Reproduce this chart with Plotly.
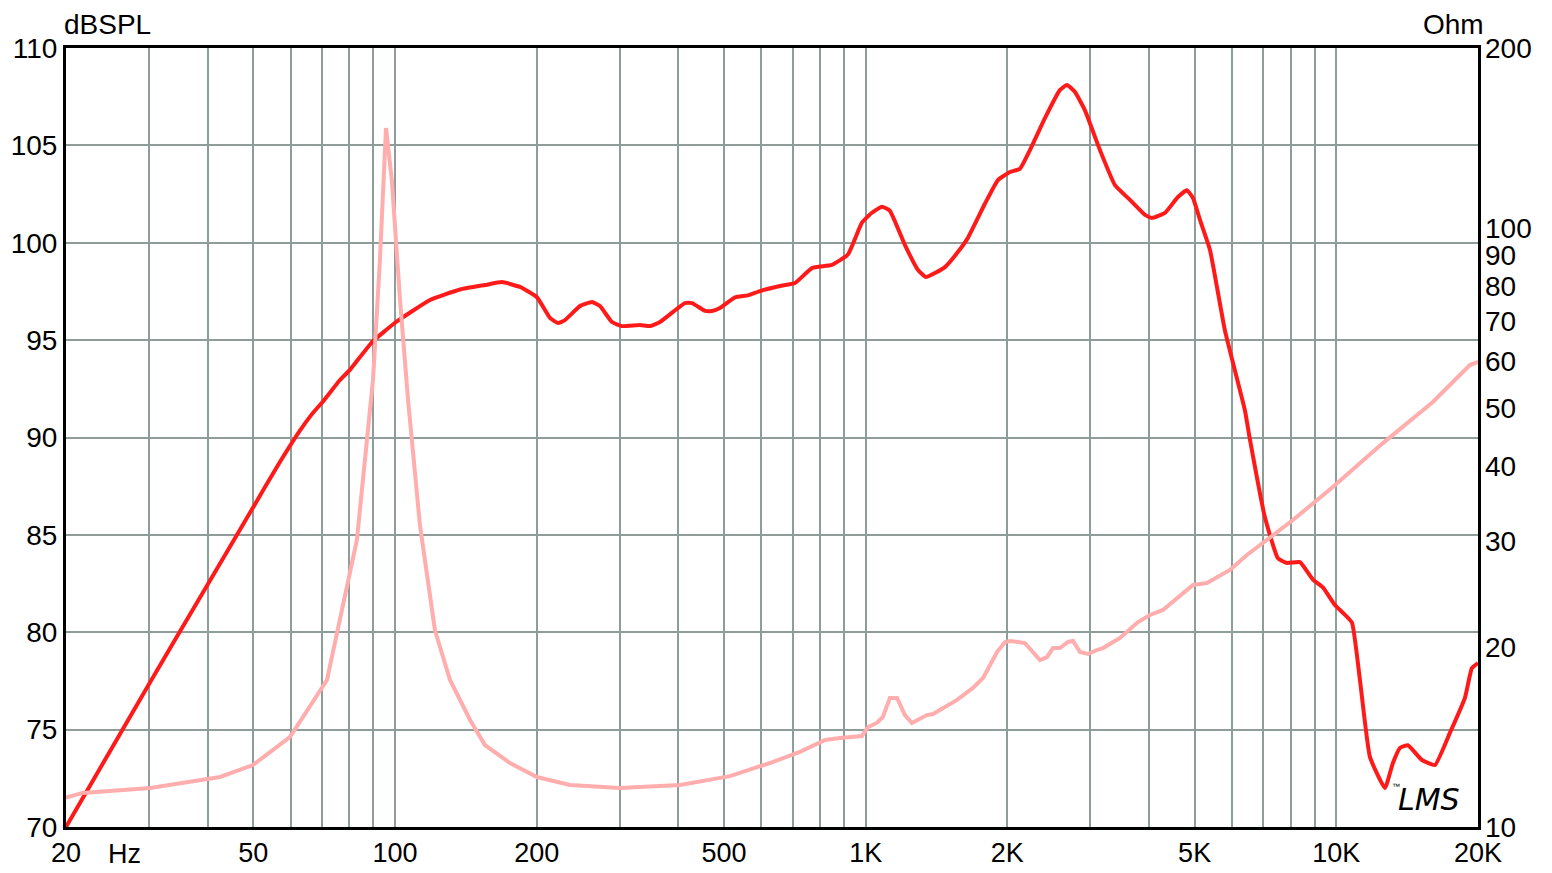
import numpy as np
import plotly.graph_objects as go

# SPL response (red) — frequency in Hz, level in dBSPL
spl_freq = [20, 30.2, 40, 50.2, 56, 62.8, 66.6, 70.3, 76.4, 80.2, 89.4, 100.5, 118.7, 137.5, 155.3, 168.8,
            184.3, 200.3, 213.4, 222, 229.7, 247.2, 262.2, 272.6, 289, 303.5, 331.7, 348.2, 365.6, 413,
            427.6, 455.9, 471.6, 490.4, 527.6, 562.2, 596.4, 657.6, 707.8, 769, 848, 917, 982, 1031, 1083,
            1126, 1212, 1292, 1343, 1404, 1474, 1570, 1649, 1792, 1910, 2026, 2128, 2234, 2404, 2586, 2678,
            2785, 2924, 3146, 3386, 3644, 3922, 4057, 4324, 4608, 4814, 4960, 5133, 5390, 5798, 6394, 6553,
            7052, 7514, 7852, 8370, 8920, 9364, 9932, 10330, 10794, 11226, 11786, 12684, 13190, 13652,
            14196, 15200, 16198, 17430, 18760, 19410, 20000]
spl_db = [70.0, 77.45, 82.45, 86.5, 88.45, 90.35, 91.2, 91.85, 92.95, 93.47, 94.9, 95.93, 97.06, 97.6,
          97.83, 97.98, 97.73, 97.2, 96.14, 95.88, 96.03, 96.75, 96.96, 96.75, 95.93, 95.72, 95.78, 95.72,
          95.93, 96.9, 96.9, 96.5, 96.5, 96.65, 97.2, 97.3, 97.52, 97.78, 97.93, 98.7, 98.86, 99.4,
          101.03, 101.54, 101.85, 101.64, 99.88, 98.6, 98.24, 98.45, 98.75, 99.52, 100.25, 102.0, 103.22,
          103.63, 103.8, 104.76, 106.4, 107.84, 108.1, 107.74, 106.8, 104.76, 102.96, 102.2, 101.43,
          101.27, 101.53, 102.35, 102.7, 102.3, 101.17, 99.63, 95.5, 91.4, 89.9, 85.9, 83.8, 83.56, 83.6,
          82.7, 82.3, 81.4, 81.0, 80.5, 77.55, 73.6, 72.0, 73.29, 74.06, 74.2, 73.44, 73.18, 74.83, 76.63,
          78.16, 78.42]

# Impedance (pink) — frequency in Hz, impedance in Ohm
imp_freq = [20, 21.7, 30.2, 42.5, 49.9, 59.8, 71.7, 75.3, 83, 89.8, 92.9, 95.7, 98.5, 102.5, 106.6, 113,
            121.6, 130.9, 144.4, 155.3, 175.5, 200.3, 235.4, 300.6, 403.2, 515, 626, 725, 820, 882, 982,
            1012, 1056, 1088, 1126, 1166, 1212, 1254, 1350, 1390, 1564, 1690, 1776, 1902, 1978, 2026, 2128,
            2180, 2346, 2428, 2500, 2587, 2690, 2758, 2854, 2968, 3100, 3194, 3470, 3790, 4018, 4282, 4960,
            5310, 5943, 6457, 8087, 9832, 12560, 16040, 19220, 20000]
imp_ohm = [11.2, 11.4, 11.62, 12.12, 12.69, 14.13, 17.6, 21.09, 30.15, 55.8, 88.5, 147.0, 120.0, 75.9,
           51.7, 31.9, 21.3, 17.6, 15.09, 13.7, 12.79, 12.12, 11.75, 11.62, 11.75, 12.16, 12.79, 13.35,
           13.97, 14.08, 14.19, 14.69, 14.92, 15.27, 16.43, 16.43, 15.38, 14.92, 15.38, 15.44, 16.3, 17.07,
           17.74, 19.6, 20.37, 20.45, 20.29, 20.29, 19.0, 19.22, 19.9, 19.9, 20.37, 20.45, 19.6, 19.45,
           19.75, 19.9, 20.69, 21.99, 22.6, 23.04, 25.37, 25.56, 26.87, 28.46, 32.56, 36.96, 43.77, 51.27,
           59.1, 59.8]

x_grid = [20, 30, 40, 50, 60, 70, 80, 90, 100, 200, 300, 400, 500, 600, 700, 800, 900,
          1000, 2000, 3000, 4000, 5000, 6000, 7000, 8000, 9000, 10000, 20000]
x_labels = {20: "20", 50: "50", 100: "100", 200: "200", 500: "500", 1000: "1K", 2000: "2K",
            5000: "5K", 10000: "10K", 20000: "20K"}
y_ticks = [70, 75, 80, 85, 90, 95, 100, 105, 110]
y2_ticks = [10, 20, 30, 40, 50, 60, 70, 80, 90, 100, 200]

FONT = "Liberation Sans, Arial, sans-serif"

fig = go.Figure()
fig.add_trace(go.Scatter(x=imp_freq, y=imp_ohm, yaxis="y2", mode="lines",
                         line=dict(color="#ffadad", width=4), hoverinfo="skip"))
fig.add_trace(go.Scatter(x=spl_freq, y=spl_db, mode="lines",
                         line=dict(color="#ff1a1a", width=4, shape="spline", smoothing=0.4),
                         hoverinfo="skip"))

fig.update_layout(
    width=1552, height=873,
    margin=dict(l=66, r=74, t=48, b=46, autoexpand=False),
    paper_bgcolor="white", plot_bgcolor="white",
    showlegend=False,
    font=dict(family=FONT, color="black"),
    xaxis=dict(type="log", range=[np.log10(20), np.log10(20000)], automargin=False,
               tickvals=x_grid, ticktext=[x_labels.get(v, "") for v in x_grid],
               showgrid=True, gridcolor="#8e9c9a", gridwidth=2,
               showline=True, linecolor="black", linewidth=3, mirror=True,
               ticks="", tickfont=dict(size=27, family=FONT), zeroline=False),
    yaxis=dict(range=[70, 110], tickvals=y_ticks, automargin=False,
               showgrid=True, gridcolor="#8e9c9a", gridwidth=2,
               showline=True, linecolor="black", linewidth=3, mirror=True,
               ticks="", tickfont=dict(size=28, family=FONT), zeroline=False),
    yaxis2=dict(type="log", range=[1, np.log10(200)], overlaying="y", side="right",
                tickvals=y2_ticks, ticktext=[str(v) for v in y2_ticks], automargin=False,
                showgrid=False, ticks="", tickfont=dict(size=28, family=FONT),
                ticklabelstandoff=6, showline=False, zeroline=False),
)

fig.add_annotation(text="dBSPL", xref="paper", yref="paper", x=0, y=1.0, xanchor="left",
                   yanchor="bottom", xshift=-4, yshift=6, showarrow=False, font=dict(size=28, family=FONT))
fig.add_annotation(text="Ohm", xref="paper", yref="paper", x=1.0, y=1.0, xanchor="right",
                   yanchor="bottom", xshift=8, yshift=6, showarrow=False, font=dict(size=28, family=FONT))
fig.add_annotation(text="Hz", xref="paper", yref="paper", x=0, y=0, xanchor="left",
                   yanchor="top", xshift=40, yshift=-10, showarrow=False, font=dict(size=27, family=FONT))
fig.add_annotation(text="<i>LMS</i>", xref="paper", yref="paper", x=1.0, y=0, xanchor="right",
                   yanchor="bottom", xshift=-16, yshift=8, showarrow=False,
                   font=dict(size=30, family="DejaVu Sans, sans-serif", color="black"))
fig.add_annotation(text="™", xref="paper", yref="paper", x=1.0, y=0, xanchor="right",
                   yanchor="bottom", xshift=-76, yshift=34, showarrow=False,
                   font=dict(size=8, family=FONT, color="black"))

fig.write_html("out.html", config={"displayModeBar": False},
               post_script="document.body.style.margin='0';")
